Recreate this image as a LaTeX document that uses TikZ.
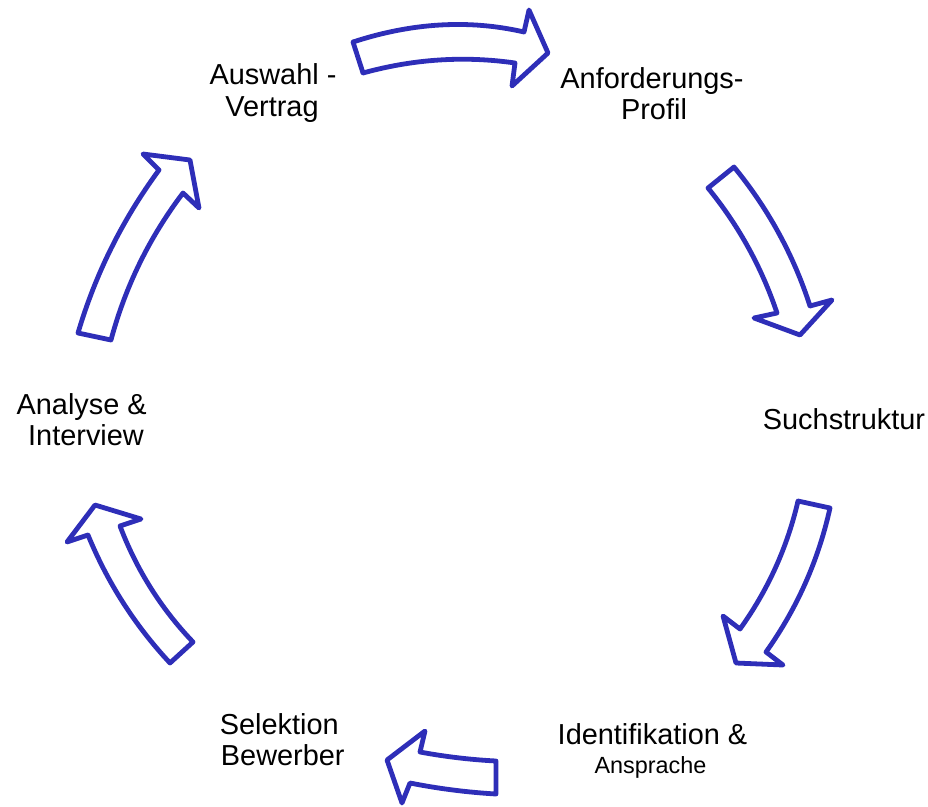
\documentclass[tikz,border=0pt]{standalone}
\usepackage{fontspec}
\setmainfont{Liberation Sans}
\definecolor{arrowblue}{RGB}{46,46,184}
\tikzset{
  blockarrow/.style={draw=arrowblue, line width=4.8pt, line join=round, fill=white},
  lbl/.style={anchor=base, inner sep=0pt, font=\fontsize{28.9}{32}\selectfont},
  lblsmall/.style={anchor=base, inner sep=0pt, font=\fontsize{23.4}{28}\selectfont}
}
\begin{document}
\begin{tikzpicture}[x=1pt,y=-1pt]
\useasboundingbox (0,0) rectangle (928,806);
% arrows
\draw[blockarrow] (353,42) .. controls (412,22.7) and (469,19.3) .. (524,32) -- (529,10) -- (548,53) -- (512,86) -- (515,63) .. controls (464.3,55.7) and (413.7,59) .. (363,73) -- cycle;
\draw[blockarrow] (708,188) -- (734,167) .. controls (768.1,208.5) and (793.5,254.9) .. (810,306) -- (832,300) -- (800,335) -- (754,318) -- (777,313) .. controls (761.6,267.2) and (738.6,225.5) .. (708,188) -- cycle;
\draw[blockarrow] (798,501) -- (830,508) .. controls (818.4,560.3) and (797.1,608.3) .. (766,652) -- (783,665) -- (736,663) -- (723,616) -- (740,629) .. controls (767.9,590.1) and (787.2,547.5) .. (798,501) -- cycle;
\draw[blockarrow] (496,761) .. controls (470.7,759.7) and (445.3,756.7) .. (420,752) -- (425,731) -- (387,760) -- (402,803) -- (410,783) .. controls (438.7,788.7) and (467.3,792.3) .. (496,794) -- cycle;
\draw[blockarrow] (193,642) .. controls (160.8,608.3) and (136.5,569.6) .. (120,526) -- (141,519) -- (95,505) -- (67,542) -- (88,535) .. controls (107.5,582.6) and (134.8,625.3) .. (170,663) -- cycle;
\draw[blockarrow] (78,333) .. controls (95.4,274) and (122.4,219.7) .. (159,170) -- (143,154) -- (190,160) -- (199,208) -- (183,193) .. controls (149.4,237.3) and (125.4,286.3) .. (111,340) -- cycle;
% labels
\node[lbl] (aus1) at (273,84.3) {Auswahl -};
\node[lbl] (aus2) at (272,116) {Vertrag};
\node[lbl] (anf1) at (652,88.5) {Anforderungs-};
\node[lbl] (anf2) at (654,119.5) {Profil};
\node[lbl] (such) at (844,429.3) {Suchstruktur};
\node[lbl] (ident1) at (652.5,744.5) {Identifikation \&};
\node[lblsmall] (ident2) at (650.5,773.5) {Ansprache};
\node[lbl] (sel1) at (279.3,734.5) {Selektion};
\node[lbl] (sel2) at (282.8,765.5) {Bewerber};
\node[lbl] (ana1) at (81.7,414.5) {Analyse \&};
\node[lbl] (ana2) at (86,445.5) {Interview};
\end{tikzpicture}
\end{document}
